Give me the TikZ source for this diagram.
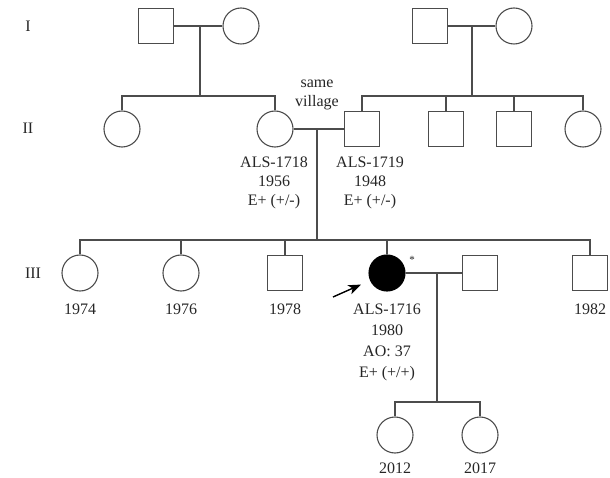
\documentclass[tikz,border=0pt]{standalone}
\usepackage{fontspec}
\setmainfont{Liberation Serif}
\usepackage{tikz}
\usetikzlibrary{arrows.meta,positioning}

\begin{document}
\begin{tikzpicture}[
  x=1pt, y=-1pt,
  font=\fontsize{16}{19}\selectfont,
  male/.style={draw=black!70, line width=1.1pt, minimum size=35pt, inner sep=0pt},
  female/.style={draw=black!70, circle, line width=1.1pt, minimum size=36pt, inner sep=0pt},
  aff/.style={female, draw=black, fill=black},
  ln/.style={line width=1.1pt, draw=black!70},
  lbl/.style={align=center, inner sep=0pt, text=black!85},
  ar/.style={-{Stealth[length=4.4mm, width=3.4mm, inset=1.2mm]}, line width=1.4pt},
]
\useasboundingbox (0,0) rectangle (610,478);
% generation labels
\node[lbl] (gI) at (28,26) {I};
\node[lbl] (gII) at (28,128) {II};
\node[lbl] (gIII) at (33,273) {III};
% generation I
\node[male] (i1) at (156,26) {};
\node[female] (i2) at (241,26) {};
\node[male] (i3) at (430,26) {};
\node[female] (i4) at (514,26) {};
% generation II
\node[female] (ii1) at (122,129) {};
\node[female] (ii2) at (275,129) {};
\node[male] (ii3) at (362,129) {};
\node[male] (ii4) at (446,129) {};
\node[male] (ii5) at (514,129) {};
\node[female] (ii6) at (583,129) {};
% generation III
\node[female] (iii1) at (80,273) {};
\node[female] (iii2) at (181,273) {};
\node[male] (iii3) at (285,273) {};
\node[aff] (iii4) at (387,273) {};
\node[male] (iii5) at (480,273) {};
\node[male] (iii6) at (590,273) {};
% generation IV
\node[female] (iv1) at (395,435) {};
\node[female] (iv2) at (480,435) {};
% junctions
\coordinate (m1) at (200,26); \coordinate (s1) at (200,96);
\coordinate (m2) at (472,26); \coordinate (s2) at (472,96);
\coordinate (m3) at (317,129); \coordinate (s3) at (317,240);
\coordinate (m4) at (437,273); \coordinate (s4) at (437,402);
% lines of descent
\draw[ln] (i1) -- (i2); \draw[ln] (m1) -- (s1);
\draw[ln] (ii1.north) |- (s1) -| (ii2.north);
\draw[ln] (i3) -- (i4); \draw[ln] (m2) -- (s2);
\draw[ln] (ii3.north) |- (s2) -| (ii6.north);
\draw[ln] (s2 -| ii4) -- (ii4.north); \draw[ln] (s2 -| ii5) -- (ii5.north);
\draw[ln] (ii2) -- (ii3); \draw[ln] (m3) -- (s3);
\draw[ln] (iii1.north) |- (s3) -| (iii6.north);
\draw[ln] (s3 -| iii2) -- (iii2.north); \draw[ln] (s3 -| iii3) -- (iii3.north);
\draw[ln] (s3 -| iii4) -- (iii4.north);
\draw[ln] (iii4) -- (iii5); \draw[ln] (m4) -- (s4);
\draw[ln] (iv1.north) |- (s4) -| (iv2.north);
% texts
\node[lbl] (vil) at (317,95) {same\\village};
\node[lbl, anchor=north] (t1718) at (274,157) {ALS-1718\\1956\\E+ (+/-)};
\node[lbl, anchor=north] (t1719) at (370,157) {ALS-1719\\1948\\E+ (+/-)};
\node[lbl] (y1974) at (80,309) {1974};
\node[lbl] (y1976) at (181,309) {1976};
\node[lbl] (y1978) at (285,309) {1978};
\node[lbl] (y1982) at (590,309) {1982};
\node[lbl, anchor=north, font=\fontsize{16}{21}\selectfont] (t1716) at (387,304) {ALS-1716\\1980\\AO: 37\\E+ (+/+)};
\node[lbl, font=\fontsize{11}{12}\selectfont] (star) at (412,260) {*};
\node[lbl] (y2012) at (395,468) {2012};
\node[lbl] (y2017) at (480,468) {2017};
% proband
\coordinate (pa) at (333,297);
\draw[ar, shorten >=10pt] (pa) -- (iii4);
\end{tikzpicture}
\end{document}
